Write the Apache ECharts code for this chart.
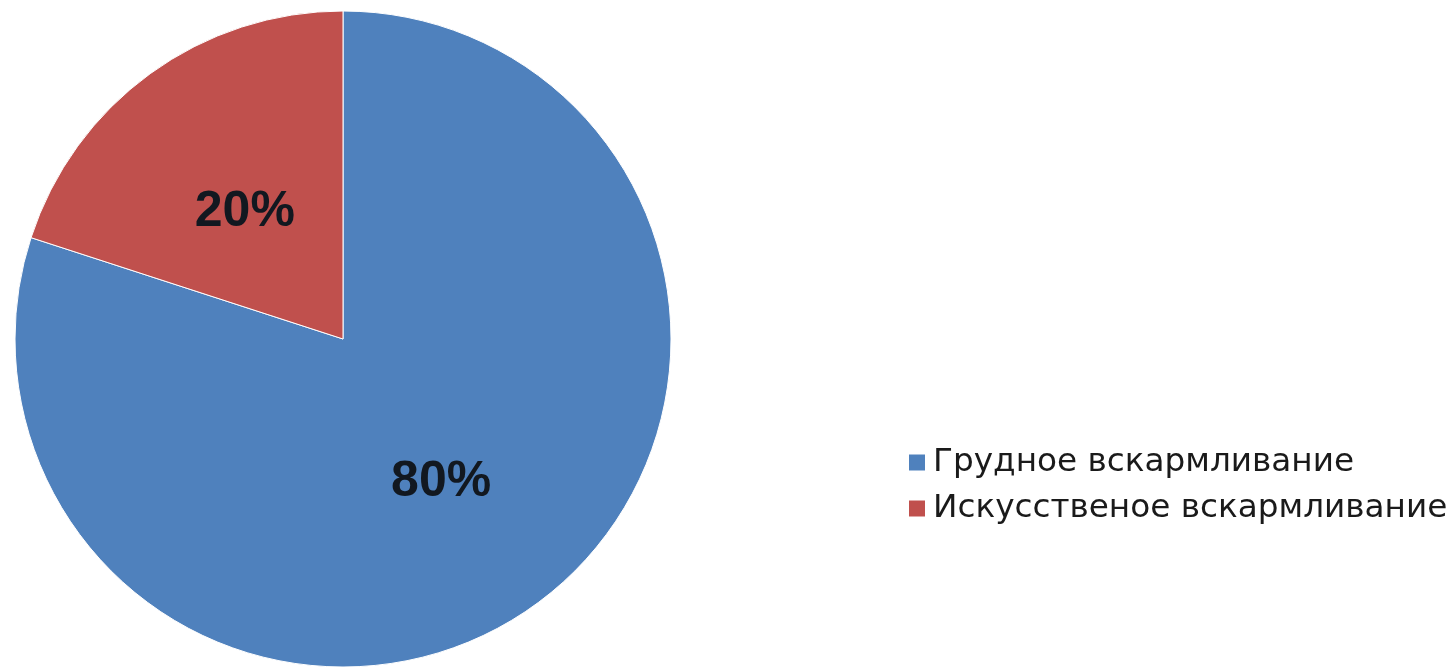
<!DOCTYPE html>
<html>
<head>
<meta charset="utf-8">
<script src="https://cdn.jsdelivr.net/npm/echarts@6/dist/echarts.min.js"></script>
<style>
  html, body { margin: 0; padding: 0; background: #fff; }
  #chart { width: 1455px; height: 669px; }
</style>
</head>
<body>
<div id="chart"></div>
<script>
// Feeding type shares, percent
const categories = ['Грудное вскармливание', 'Искусственое вскармливание'];
const shares = [80, 20];
const colors = ['#4F81BD', '#C0504D'];

const chart = echarts.init(document.getElementById('chart'), null, { renderer: 'canvas' });

chart.setOption({
  backgroundColor: '#ffffff',
  animation: false,
  legend: {
    orient: 'vertical',
    left: 907,
    top: 446,
    padding: 0,
    itemWidth: 18,
    itemHeight: 18,
    itemGap: 13,
    icon: 'rect',
    data: categories,
    textStyle: {
      fontFamily: '"DejaVu Sans", sans-serif',
      fontSize: 32.7,
      lineHeight: 33,
      color: '#1a1a1a',
      padding: [0, 0, 0, 2]
    }
  },
  series: [{
    type: 'pie',
    center: [343, 339],
    radius: 328,
    startAngle: 90,
    clockwise: true,
    itemStyle: { borderColor: '#ffffff', borderWidth: 1 },
    label: {
      show: true,
      position: 'inside',
      formatter: '{c}%',
      fontFamily: '"Liberation Sans", Arial, sans-serif',
      fontSize: 50,
      fontWeight: 'bold',
      color: '#121820'
    },
    labelLayout: { dy: 8 },
    labelLine: { show: false },
    emphasis: { disabled: true },
    data: categories.map((name, i) => ({
      name: name,
      value: shares[i],
      itemStyle: { color: colors[i] }
    }))
  }]
});
</script>
</body>
</html>
